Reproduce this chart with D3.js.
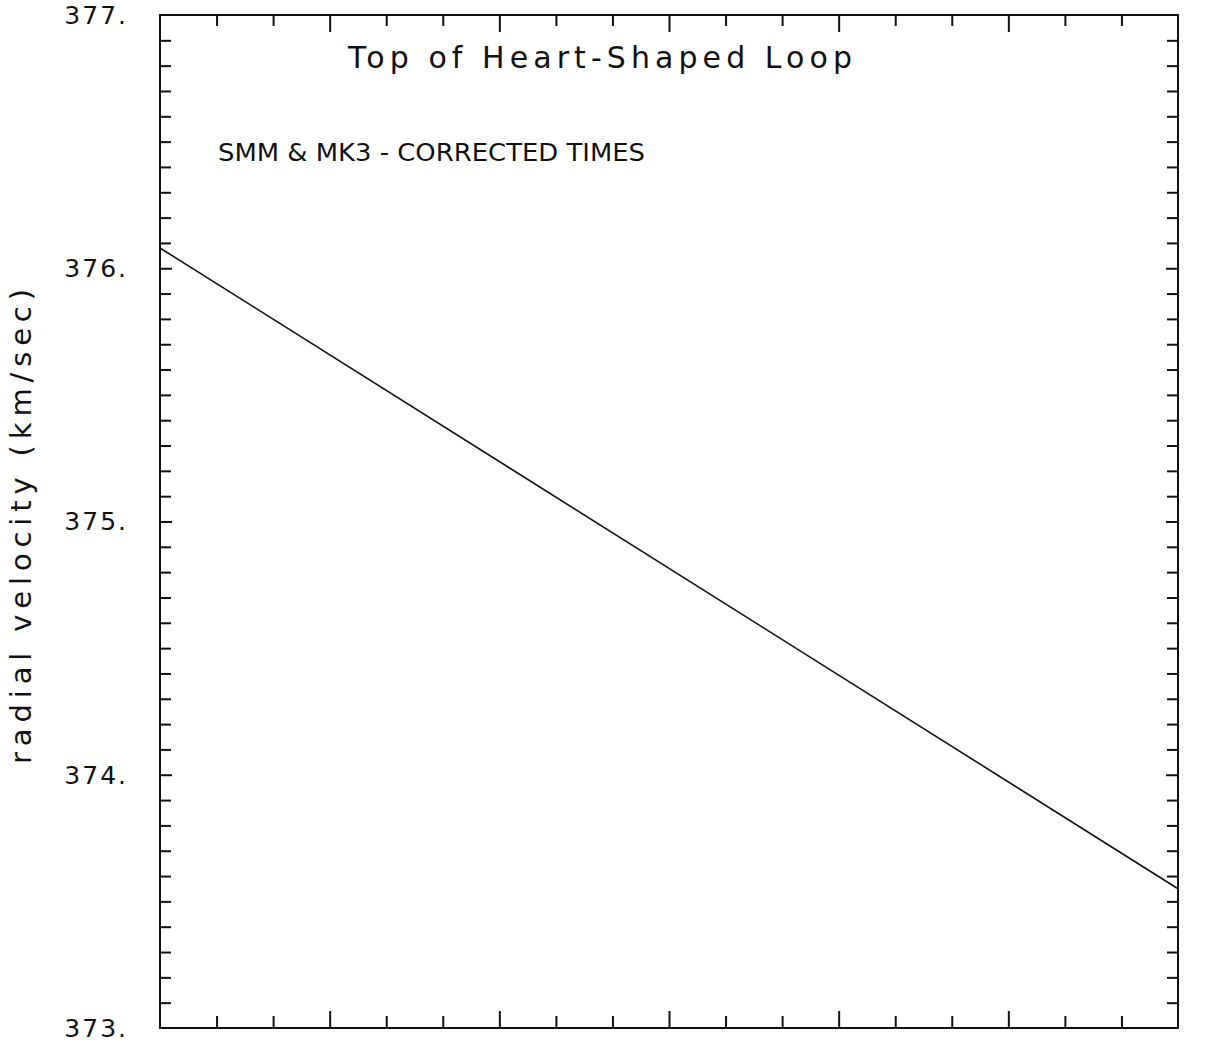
<!DOCTYPE html>
<html>
<head>
<meta charset="utf-8">
<script src="https://cdn.jsdelivr.net/npm/d3@7"></script>
<style>
  body { margin: 0; background: #fff; }
  text { font-family: "DejaVu Sans", sans-serif; fill: #111; }
</style>
</head>
<body>
<script>
// data (x in major-tick units, no labels visible)
var xVals = [0, 6];
var velocity = [376.08, 373.55];
var yTickLabels = ["373.", "374.", "375.", "376.", "377."];
var yMajor = [373, 374, 375, 376, 377];

var margin = {top: 15, right: 49, bottom: 18, left: 160},
    width = 1227 - margin.left - margin.right,
    height = 1046 - margin.top - margin.bottom;

var svg = d3.select("body").append("svg")
    .attr("width", 1227)
    .attr("height", 1046);

var g = svg.append("g")
    .attr("transform", "translate(" + margin.left + "," + margin.top + ")");

var x = d3.scaleLinear().domain([0, 6]).range([0, width]);
var y = d3.scaleLinear().domain([373, 377]).range([height, 0]);

// tick positions
var xMinor = d3.range(0, 6.001, 1 / 3).filter(function(d) {
  return Math.abs(d - Math.round(d)) > 0.01;
});
var xMaj = d3.range(1, 6);
var yMinor = d3.range(373.1, 377, 0.1).filter(function(d) {
  return Math.abs(d - Math.round(d)) > 0.01;
});

// bottom and top axes (ticks only, inward)
function xAxisTicks(vals, len, top) {
  var ax = (top ? d3.axisTop(x) : d3.axisBottom(x))
      .tickValues(vals).tickSize(-len).tickFormat("");
  g.append("g")
      .attr("transform", "translate(0," + (top ? 0 : height) + ")")
      .call(ax)
      .call(function(s) { s.select(".domain").remove(); })
      .selectAll("line").attr("stroke", "#111").attr("stroke-width", 2);
}
xAxisTicks(xMinor, 12, false);
xAxisTicks(xMaj, 17, false);
xAxisTicks(xMinor, 11, true);
xAxisTicks(xMaj, 17, true);

// left and right axes
function yAxisTicks(vals, len, right) {
  var ax = (right ? d3.axisRight(y) : d3.axisLeft(y))
      .tickValues(vals).tickSize(-len).tickFormat("");
  g.append("g")
      .attr("transform", "translate(" + (right ? width : 0) + ",0)")
      .call(ax)
      .call(function(s) { s.select(".domain").remove(); })
      .selectAll("line").attr("stroke", "#111").attr("stroke-width", 2);
}
yAxisTicks(yMinor, 11, false);
yAxisTicks(yMajor.slice(1, 4), 12, false);
yAxisTicks(yMinor, 11, true);
yAxisTicks(yMajor.slice(1, 4), 12, true);

// frame
g.append("rect")
    .attr("width", width).attr("height", height)
    .attr("fill", "none").attr("stroke", "#111").attr("stroke-width", 2);

// y tick labels
g.selectAll("text.ylab")
    .data(yMajor)
  .enter().append("text")
    .attr("class", "ylab")
    .attr("x", -32)
    .attr("y", function(d) { return y(d); })
    .attr("dy", "0.35em")
    .attr("text-anchor", "end")
    .style("font-size", "25px")
    .style("letter-spacing", "2px")
    .text(function(d, i) { return yTickLabels[i]; });

// y axis label
svg.append("text")
    .attr("transform", "translate(31," + (margin.top + y(375) + 5) + ") rotate(-90)")
    .attr("text-anchor", "middle")
    .attr("textLength", 475)
    .attr("lengthAdjust", "spacing")
    .style("font-size", "29px")
    .text("radial velocity (km/sec)");

// the line
var line = d3.line()
    .x(function(d, i) { return x(xVals[i]); })
    .y(function(d) { return y(d); });

g.append("path")
    .datum(velocity)
    .attr("d", line)
    .attr("fill", "none")
    .attr("stroke", "#111")
    .attr("stroke-width", 1.6);

// title and note
g.append("text")
    .attr("x", 348 - margin.left)
    .attr("y", 68 - margin.top)
    .attr("textLength", 504)
    .attr("lengthAdjust", "spacing")
    .style("font-size", "30px")
    .text("Top of Heart-Shaped Loop");

g.append("text")
    .attr("x", 218 - margin.left)
    .attr("y", 161 - margin.top)
    .attr("textLength", 427)
    .attr("lengthAdjust", "spacingAndGlyphs")
    .style("font-size", "24px")
    .text("SMM & MK3 - CORRECTED TIMES");
</script>
</body>
</html>
